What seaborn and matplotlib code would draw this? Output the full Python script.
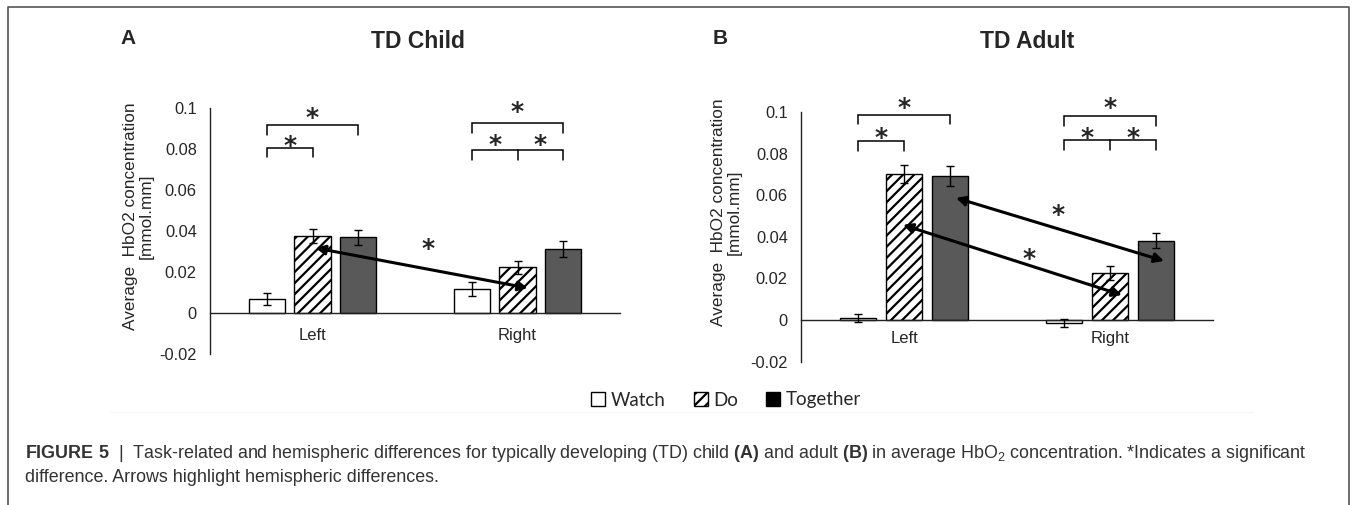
import numpy as np
import pandas as pd
import matplotlib.pyplot as plt
import seaborn as sns
from matplotlib.patches import Patch
from matplotlib.lines import Line2D
from matplotlib.ticker import FuncFormatter

sns.set_style("white")
plt.rcParams['font.family'] = ['Liberation Sans', 'DejaVu Sans']
plt.rcParams['mathtext.fontset'] = 'custom'
plt.rcParams['mathtext.rm'] = 'Liberation Sans'
plt.rcParams['mathtext.bf'] = 'Liberation Sans:bold'
plt.rcParams['hatch.linewidth'] = 1.6

hemis = ["Left", "Right"]
tasks = ["Watch", "Do", "Together"]

# TD child, values
child_watch = [0.0070, 0.0117]
child_do = [0.0376, 0.0224]
child_together = [0.0370, 0.0312]
child_watch_err = [0.0030, 0.0032]
child_do_err = [0.0034, 0.0032]
child_together_err = [0.0036, 0.0037]

# TD adult, panel B
adult_watch = [0.0010, -0.0015]
adult_do = [0.0700, 0.0226]
adult_together = [0.0692, 0.0380]
adult_watch_err = [0.0020, 0.0020]
adult_do_err = [0.0043, 0.0034]
adult_together_err = [0.0046, 0.0036]

colors = {"Watch": "white", "Do": "white", "Together": "#595959"}


def make_df(w, d, t, we, de, te):
    return pd.DataFrame({
        'hemisphere': hemis * 3,
        'task': np.repeat(tasks, 2),
        'value': w + d + t,
        'err': we + de + te,
    })


df_child = make_df(child_watch, child_do, child_together,
                   child_watch_err, child_do_err, child_together_err)
df_adult = make_df(adult_watch, adult_do, adult_together,
                   adult_watch_err, adult_do_err, adult_together_err)

W, H = 1356, 505
fig = plt.figure(figsize=(W / 100, H / 100), dpi=100)


def px(x, y):
    return x / W, 1 - y / H


def draw_panel(ax, df, xpad):
    sns.barplot(data=df, x='hemisphere', y='value', hue='task', order=hemis,
                hue_order=tasks, palette=colors, saturation=1, width=0.667,
                gap=0.21, errorbar=None, edgecolor='black', linewidth=1,
                legend=False, ax=ax)
    centers = {}
    for cont, task in zip(ax.containers, tasks):
        sub = df[df.task == task].set_index('hemisphere').loc[hemis]
        xs = [b.get_x() + b.get_width() / 2 for b in cont]
        if task == "Do":
            for b in cont:
                b.set_hatch('///')
        ax.errorbar(xs, sub['value'], yerr=sub['err'], fmt='none',
                    ecolor='black', elinewidth=1, capsize=3, capthick=1, zorder=5)
        for h, x in zip(hemis, xs):
            centers[(task, h)] = x
    ax.set_xlim(-0.5, 1.5)
    ax.set_ylim(-0.02, 0.1)
    ax.set_yticks([-0.02, 0, 0.02, 0.04, 0.06, 0.08, 0.1])
    ax.yaxis.set_major_formatter(FuncFormatter(lambda v, p: f"{round(v, 4) + 0.0:g}"))
    ax.spines['top'].set_visible(False)
    ax.spines['right'].set_visible(False)
    ax.spines['bottom'].set_position(('data', 0))
    for s in ['left', 'bottom']:
        ax.spines[s].set_color('#222222')
        ax.spines[s].set_linewidth(1.0)
    ax.tick_params(axis='y', length=0, pad=9.5, labelsize=11.8)
    ax.tick_params(axis='x', length=0, pad=xpad, labelsize=12)
    ax.set_xlabel("")
    ax.set_ylabel("Average  HbO2 concentration\n[mmol.mm]", fontsize=12.4,
                  multialignment='center', linespacing=1.1)
    return centers


def star(ax, x, y):
    ax.annotate("*", xy=(x, y), xytext=(0, -6), textcoords='offset points',
                ha='center', va='center', fontsize=18, family='DejaVu Sans',
                fontweight='bold', annotation_clip=False)


def bracket(ax, x1, x2, y, drop, xmid=None):
    ax.plot([x1, x1, x2, x2], [y - drop, y, y, y - drop], color='black',
            lw=1.1, clip_on=False, solid_joinstyle='miter')
    if xmid is not None:
        ax.plot([xmid, xmid], [y, y - drop], color='black', lw=1.1, clip_on=False)


def arrow(ax, p1, p2):
    ax.annotate("", xy=p2, xytext=p1,
                arrowprops=dict(arrowstyle='<|-|>,head_length=0.55,head_width=0.28',
                                color='black', lw=2.2, shrinkA=0, shrinkB=0),
                annotation_clip=False)


# ---- panel A
axA = fig.add_axes([210 / W, 1 - 354 / H, 410 / W, 246 / H])
cA = draw_panel(axA, df_child, 11)
axA.yaxis.set_label_coords(-0.137, 0.561)

bracket(axA, cA[("Watch", "Left")], cA[("Together", "Left")], 0.0917, 0.005)
star(axA, (cA[("Watch", "Left")] + cA[("Together", "Left")]) / 2, 0.099)
bracket(axA, cA[("Watch", "Left")], cA[("Do", "Left")], 0.0805, 0.0045)
star(axA, (cA[("Watch", "Left")] + cA[("Do", "Left")]) / 2, 0.0854)
bracket(axA, cA[("Watch", "Right")], cA[("Together", "Right")], 0.0927, 0.005)
star(axA, cA[("Do", "Right")], 0.102)
bracket(axA, cA[("Watch", "Right")], cA[("Together", "Right")], 0.0795, 0.005,
        xmid=cA[("Do", "Right")])
star(axA, (cA[("Watch", "Right")] + cA[("Do", "Right")]) / 2, 0.0859)
star(axA, (cA[("Do", "Right")] + cA[("Together", "Right")]) / 2, 0.0859)
arrow(axA, (cA[("Do", "Left")] + 0.015, 0.0317), (cA[("Do", "Right")] + 0.05, 0.0122))
star(axA, 0.563, 0.0351)

# ---- panel B
axB = fig.add_axes([801 / W, 1 - 361.6 / H, 412 / W, 249.6 / H])
cB = draw_panel(axB, df_adult, 8)
axB.yaxis.set_label_coords(-0.143, 0.599)

bracket(axB, cB[("Watch", "Left")], cB[("Together", "Left")], 0.0986, 0.0045)
star(axB, (cB[("Watch", "Left")] + cB[("Together", "Left")]) / 2, 0.1058)
bracket(axB, cB[("Watch", "Left")], cB[("Do", "Left")], 0.086, 0.0047)
star(axB, (cB[("Watch", "Left")] + cB[("Do", "Left")]) / 2, 0.0913)
bracket(axB, cB[("Watch", "Right")], cB[("Together", "Right")], 0.098, 0.0045)
star(axB, cB[("Do", "Right")], 0.106)
bracket(axB, cB[("Watch", "Right")], cB[("Together", "Right")], 0.0865, 0.0048,
        xmid=cB[("Do", "Right")])
star(axB, (cB[("Watch", "Right")] + cB[("Do", "Right")]) / 2, 0.0913)
star(axB, (cB[("Do", "Right")] + cB[("Together", "Right")]) / 2, 0.0913)
arrow(axB, (cB[("Together", "Left")] + 0.03, 0.0587), (cB[("Together", "Right")] + 0.04, 0.0284))
star(axB, 0.748, 0.0543)
arrow(axB, (cB[("Do", "Left")] - 0.005, 0.0457), (cB[("Do", "Right")] + 0.058, 0.012))
star(axB, 0.607, 0.0332)

# ---- titles and panel letters
fig.text(*px(418, 41), "TD Child", ha='center', va='center', fontsize=16.5, fontweight='bold')
fig.text(*px(1027, 41), "TD Adult", ha='center', va='center', fontsize=16.5, fontweight='bold')
fig.text(*px(128, 39), "A", ha='center', va='center', fontsize=15, fontweight='bold')
fig.text(*px(720, 39), "B", ha='center', va='center', fontsize=15, fontweight='bold')

# ---- legend
handles = [Patch(facecolor=colors[t], edgecolor='black', hatch='///' if t == "Do" else None,
                 linewidth=1) for t in tasks]
handles[2].set_facecolor('black')
fig.legend(handles, tasks, loc='center', bbox_to_anchor=px(726, 400), ncol=3,
           frameon=False, prop={'family': 'Lato', 'size': 13.5}, handlelength=0.75,
           handleheight=0.75, handletextpad=0.3, columnspacing=1.5)

# ---- separator, border and caption
fig.add_artist(Line2D([110 / W, 1253 / W], [1 - 412 / H] * 2, color='#f6f6f6', lw=1))
fig.add_artist(Line2D([8 / W, 8 / W, 1349 / W, 1349 / W], [0, 1 - 7 / H, 1 - 7 / H, 0],
                      color='#555555', lw=1.2))

cap1 = (r"$\mathbf{FIGURE\ 5}$  |  Task-related and hemispheric differences for typically "
        r"developing (TD) child $\mathbf{(A)}$ and adult $\mathbf{(B)}$ in average "
        r"HbO$_2$ concentration. *Indicates a significant")
cap2 = "difference. Arrows highlight hemispheric differences."
fig.text(*px(25, 454), cap1, ha='left', va='center', fontsize=12.85, color='#333333')
fig.text(*px(25, 478), cap2, ha='left', va='center', fontsize=12.85, color='#333333')

fig.savefig("out.png", dpi=100)
